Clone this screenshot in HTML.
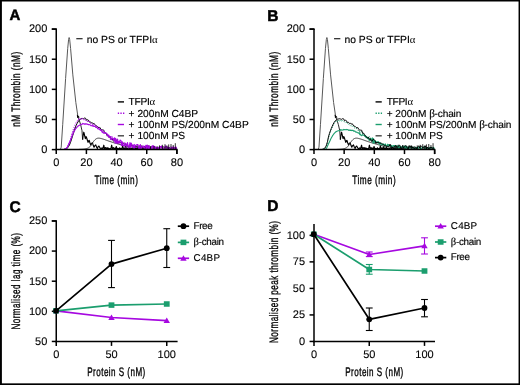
<!DOCTYPE html>
<html lang="en">
<head>
<meta charset="utf-8">
<title>Figure</title>
<style>
html,body{margin:0;padding:0;background:#fff;}
body{width:520px;height:385px;overflow:hidden;}
svg{display:block;font-family:"Liberation Sans", Arial, Helvetica, sans-serif;text-rendering:geometricPrecision;}
</style>
</head>
<body>
<svg width="520" height="385" viewBox="0 0 520 385">
<rect x="0" y="0" width="520" height="385" fill="#fff"/>
<path d="M60.32,149.60 L61.23,147.19 L62.73,124.29 L65.60,78.50 L67.71,48.38 L68.62,39.34 L69.14,37.53 L69.67,39.34 L70.58,48.38 L72.84,74.89 L75.85,102.60 L77.81,115.86" fill="none" stroke="#585858" stroke-width="1.0" stroke-linejoin="round" />
<path d="M77.40,115.50 L79.00,119.50 L80.60,124.50 L82.00,130.70 L82.60,139.60" fill="none" stroke="#111" stroke-width="0.9" stroke-linejoin="round" />
<path d="M82.60,139.60 L83.20,135.00 L83.80,132.20 L84.60,135.50 L85.35,138.60 L86.00,136.60 L86.50,137.30 L87.30,140.00 L88.05,142.40 L88.70,140.80 L89.20,140.40 L90.00,143.00 L90.85,145.00 L91.70,143.20 L92.45,142.80 L93.30,145.60 L94.05,147.20 L94.90,145.60 L95.75,144.90 L96.60,147.20 L97.35,148.40 L98.20,146.60 L98.95,146.00 L100.00,148.00 L101.15,148.70 L101.98,147.80 L102.82,149.00 L103.81,145.20 L104.51,149.00 L105.41,147.50 L106.23,149.00 L107.07,147.50 L107.60,149.00 L108.36,148.00 L109.07,149.00 L110.12,148.50 L110.85,149.00 L111.65,145.20 L112.41,149.00 L113.32,147.50 L114.07,149.00 L115.09,148.00 L115.61,149.00 L116.31,146.50 L117.05,149.00 L118.03,148.40 L118.71,149.00 L119.73,147.80 L120.33,149.00 L121.07,148.50 L121.84,149.00 L122.67,145.80 L123.33,149.00 L124.20,148.00 L124.99,149.00 L125.75,146.50 L126.45,149.00 L127.07,148.00 L127.73,149.00 L128.75,147.00 L129.28,149.00 L129.88,148.50 L130.47,149.00 L131.53,148.50 L132.22,149.00 L133.31,147.00 L133.98,149.00 L134.86,146.50 L135.67,149.00 L136.41,148.00 L137.03,149.00 L137.64,147.00 L138.44,149.00 L139.10,146.50 L139.89,149.00 L140.49,145.20 L141.31,149.00 L142.00,147.80 L142.57,149.00 L143.43,147.50 L144.10,149.00 L144.89,147.00 L145.56,149.00 L146.26,145.80 L147.11,149.00 L148.20,145.80 L149.09,149.00 L149.70,147.50 L150.36,149.00" fill="none" stroke="#000" stroke-width="1.15" stroke-linejoin="round" />
<path d="M76.9,114.4 L79.8,117.2 L77.2,118.0 Z" fill="#000"/>
<path d="M78.87,149.42 L79.35,149.40 L79.99,149.38 L80.76,149.35 L81.60,149.32 L82.49,149.28 L83.36,149.21 L84.18,149.12 L84.90,149.00 L85.55,148.85 L86.17,148.70 L86.78,148.53 L87.35,148.33 L87.91,148.11 L88.44,147.84 L88.94,147.54 L89.43,147.19 L89.88,146.77 L90.29,146.29 L90.67,145.76 L91.03,145.19 L91.38,144.62 L91.72,144.04 L92.08,143.49 L92.44,142.97 L92.82,142.48 L93.20,141.97 L93.57,141.47 L93.95,140.98 L94.33,140.51 L94.70,140.08 L95.08,139.69 L95.46,139.36 L95.82,139.08 L96.18,138.84 L96.52,138.64 L96.87,138.47 L97.23,138.34 L97.61,138.25 L98.02,138.19 L98.47,138.15 L98.96,138.16 L99.46,138.20 L99.99,138.28 L100.55,138.40 L101.12,138.54 L101.73,138.70 L102.35,138.87 L103.00,139.06 L103.67,139.26 L104.36,139.49 L105.08,139.75 L105.83,140.02 L106.59,140.30 L107.38,140.59 L108.19,140.88 L109.03,141.16 L109.89,141.45 L110.77,141.75 L111.68,142.05 L112.61,142.35 L113.57,142.66 L114.54,142.97 L115.55,143.27 L116.57,143.57 L117.63,143.88 L118.73,144.20 L119.85,144.52 L121.00,144.84 L122.16,145.15 L123.32,145.45 L124.48,145.73 L125.62,145.98 L126.73,146.22 L127.81,146.44 L128.88,146.64 L129.95,146.83 L131.05,147.01 L132.19,147.18 L133.39,147.34 L134.67,147.49 L136.01,147.64 L137.40,147.77 L138.84,147.89 L140.32,148.00 L141.85,148.10 L143.43,148.20 L145.06,148.30 L146.73,148.39 L148.47,148.49 L150.29,148.58 L152.16,148.66 L154.08,148.74 L156.02,148.81 L157.97,148.88 L159.90,148.94 L161.81,149.00 L163.80,149.05 L165.93,149.09 L168.13,149.12 L170.29,149.16 L172.34,149.18 L174.18,149.20 L175.73,149.22 L176.89,149.24" fill="none" stroke="#333" stroke-width="0.95" stroke-linejoin="round" />
<path d="M64.69,148.90 L65.64,148.90 L66.59,148.90 L67.54,147.87 L68.49,146.60 L69.44,144.97 L70.39,142.74 L71.34,139.89 L72.29,136.83 L73.24,133.89 L74.19,130.87 L75.14,127.98 L76.09,125.54 L77.04,123.55 L77.99,121.91 L78.94,120.59 L79.89,119.16 L80.84,119.07 L81.79,118.37 L82.74,118.61 L83.69,118.73 L84.64,118.00 L85.59,118.28 L86.54,120.24 L87.49,119.73 L88.44,120.24 L89.39,122.16 L90.34,121.75 L91.29,122.95 L92.24,122.86 L93.19,123.71 L94.14,123.42 L95.09,124.90 L96.04,125.96 L96.99,126.01 L97.94,127.10 L98.89,127.70 L99.84,127.33 L100.79,129.33 L101.74,129.86 L102.69,129.88 L103.64,129.99 L104.59,132.99 L105.54,132.83 L106.49,134.38 L107.44,135.88 L108.39,136.47 L109.34,137.80 L110.29,137.12 L111.24,139.11 L112.19,138.45 L113.14,140.82 L114.09,141.21 L115.04,139.03 L115.99,139.74 L116.94,140.41 L117.89,143.47 L118.84,141.92 L119.79,142.94 L120.74,142.10 L121.69,143.17 L122.64,143.03 L123.59,143.19 L124.54,144.30 L125.49,144.53 L126.44,145.89 L127.39,145.28 L128.34,146.35 L129.29,146.26 L130.24,146.91 L131.19,145.92 L132.14,144.86 L133.09,146.27 L134.04,146.61 L134.99,146.65 L135.94,146.18 L136.89,146.57 L137.84,145.79 L138.79,147.02 L139.74,146.66 L140.69,146.25 L141.64,145.94 L142.59,147.45 L143.54,147.77 L144.49,146.21 L145.44,147.54 L146.39,146.89 L147.34,146.47 L148.29,146.77 L149.24,147.66 L150.19,147.88 L151.14,146.43 L152.09,147.48 L153.04,146.49 L153.99,147.73 L154.94,147.06 L155.89,148.08 L156.84,148.29 L157.79,147.46 L158.74,148.37 L159.69,147.16 L160.64,146.76 L161.59,147.73 L162.54,146.72 L163.49,147.04 L164.44,147.44 L165.39,147.82 L166.34,147.02 L167.29,146.83 L168.24,148.33 L169.19,147.35 L170.14,148.53 L171.09,148.43 L172.04,147.51 L172.99,147.67 L173.94,147.79 L174.89,148.02 L175.84,147.95 L176.79,147.90" fill="none" stroke="#000" stroke-width="1.0" stroke-linejoin="round" />
<path d="M64.24,149.00 L64.86,149.00 L65.48,148.99 L66.10,148.56 L66.72,147.90 L67.34,146.95 L67.96,145.81 L68.58,144.53 L69.20,143.18 L69.82,141.77 L70.44,140.23 L71.06,138.55 L71.68,136.84 L72.30,135.21 L72.92,133.75 L73.54,132.45 L74.16,131.26 L74.78,130.16 L75.40,129.17 L76.02,128.28 L76.64,127.52 L77.26,126.86 L77.88,126.29 L78.50,125.78 L79.12,125.42 L79.74,125.11 L80.36,124.81 L80.98,124.66 L81.60,124.27 L82.22,124.25 L82.84,123.41 L83.46,123.71 L84.08,124.10 L84.70,123.91 L85.32,124.19 L85.94,123.67 L86.56,124.09 L87.18,124.06 L87.80,124.46 L88.42,124.66 L89.04,124.39 L89.66,124.74 L90.28,124.98 L90.90,125.67 L91.52,125.74 L92.14,125.46 L92.76,126.17 L93.38,125.86 L94.00,126.48 L94.62,126.34 L95.24,126.51 L95.86,127.50 L96.48,127.29 L97.10,127.64 L97.72,128.61 L98.34,128.90 L98.96,128.82 L99.58,129.75 L100.20,129.81 L100.82,130.33 L101.44,130.35 L102.06,132.06 L102.68,131.89 L103.30,133.00 L103.92,133.28 L104.54,132.32 L105.16,132.94 L105.78,132.95 L106.40,133.40 L107.02,133.74 L107.64,134.86 L108.26,136.12 L108.88,135.16 L109.50,137.23 L110.12,136.84 L110.74,136.66 L111.36,139.72 L111.98,138.37 L112.60,137.92 L113.22,139.19 L113.84,140.75 L114.46,137.78 L115.08,142.98 L115.70,138.44 L116.32,142.49 L116.94,143.22 L117.56,139.16 L118.18,143.40 L118.80,141.43 L119.42,142.76 L120.04,140.02 L120.66,140.44 L121.28,141.34 L121.90,145.58 L122.52,141.83 L123.14,144.93 L123.76,146.01 L124.38,146.25 L125.00,143.30 L125.62,143.50 L126.24,144.52 L126.86,145.96 L127.48,142.61 L128.10,146.06 L128.72,146.42 L129.34,146.86 L129.96,142.69 L130.58,147.52 L131.20,143.18 L131.82,144.58 L132.44,146.09 L133.06,147.79 L133.68,144.89 L134.30,148.02 L134.92,146.10 L135.54,145.21 L136.16,145.32 L136.78,144.82 L137.40,144.48 L138.02,144.86 L138.64,147.20 L139.26,148.56 L139.88,145.12 L140.50,144.72 L141.12,148.72 L141.74,146.88 L142.36,146.40 L142.98,145.74 L143.60,147.29 L144.22,148.30 L144.84,146.78 L145.46,146.68 L146.08,145.17 L146.70,148.82 L147.32,145.13 L147.94,147.10 L148.56,148.57 L149.18,145.62 L149.80,148.17 L150.42,149.00 L151.04,147.79 L151.66,148.47 L152.28,145.63 L152.90,147.03 L153.52,145.85 L154.14,148.79 L154.76,146.50 L155.38,147.18 L156.00,149.00 L156.62,148.90 L157.24,149.00 L157.86,147.26 L158.48,147.42 L159.10,148.45 L159.72,147.41 L160.34,146.64 L160.96,147.13 L161.58,146.06 L162.20,147.04 L162.82,149.00 L163.44,149.00 L164.06,148.13 L164.68,147.61 L165.30,146.94 L165.92,145.91 L166.54,146.69 L167.16,148.84 L167.78,149.00 L168.40,147.09 L169.02,148.88 L169.64,148.85 L170.26,148.52 L170.88,148.40 L171.50,148.81 L172.12,147.15 L172.74,148.59 L173.36,146.82 L173.98,147.69 L174.60,148.89 L175.22,148.57 L175.84,146.91 L176.46,149.00" fill="none" stroke="#A608E0" stroke-width="1.15" stroke-linejoin="round" />
<path d="M64.39,149.00 L65.09,149.00 L65.79,148.87 L66.49,148.21 L67.19,147.15 L67.89,145.82 L68.59,144.29 L69.29,142.58 L69.99,140.66 L70.69,138.39 L71.39,135.89 L72.09,133.36 L72.79,131.06 L73.49,129.03 L74.19,127.16 L74.89,125.44 L75.59,123.92 L76.29,122.59 L76.99,121.43 L77.69,120.38 L78.39,119.42 L79.09,118.46 L79.79,119.61 L80.49,118.10 L81.19,118.99 L81.89,119.74 L82.59,118.36 L83.29,119.37 L83.99,119.69 L84.69,118.92 L85.39,119.83 L86.09,120.72 L86.79,120.58 L87.49,121.39 L88.19,120.72 L88.89,121.24 L89.59,121.40 L90.29,122.51 L90.99,123.66 L91.69,123.46 L92.39,124.20 L93.09,123.92 L93.79,124.99 L94.49,124.27 L95.19,125.07 L95.89,126.23 L96.59,126.82 L97.29,126.77 L97.99,126.69 L98.69,127.54 L99.39,127.97 L100.09,128.64 L100.79,130.14 L101.49,129.24 L102.19,131.87 L102.89,132.43 L103.59,130.55 L104.29,132.13 L104.99,133.09 L105.69,132.33 L106.39,134.20 L107.09,136.42 L107.79,134.85 L108.49,137.02 L109.19,136.18 L109.89,138.07 L110.59,140.37 L111.29,137.24 L111.99,136.68 L112.69,137.52 L113.39,140.34 L114.09,138.06 L114.79,138.87 L115.49,141.52 L116.19,144.05 L116.89,141.72 L117.59,141.87 L118.29,143.39 L118.99,140.81 L119.69,143.59 L120.39,141.72 L121.09,144.23 L121.79,146.28 L122.49,141.80 L123.19,144.62 L123.89,145.09 L124.59,142.90 L125.29,143.70 L125.99,147.63 L126.69,147.80 L127.39,143.38 L128.09,146.55 L128.79,147.96 L129.49,144.37 L130.19,146.44 L130.89,143.60 L131.59,145.40 L132.29,147.12 L132.99,146.80 L133.69,147.87 L134.39,144.40 L135.09,146.01 L135.79,148.29 L136.49,147.21 L137.19,146.74 L137.89,146.63 L138.59,149.00 L139.29,147.51 L139.99,145.26 L140.69,148.61 L141.39,146.71 L142.09,147.21 L142.79,146.35 L143.49,147.37 L144.19,146.92 L144.89,145.97 L145.59,148.28 L146.29,146.10 L146.99,149.00 L147.69,145.84 L148.39,149.00 L149.09,149.00 L149.79,147.91 L150.49,148.83 L151.19,146.91 L151.89,148.99 L152.59,147.70 L153.29,146.91 L153.99,149.00 L154.69,147.67 L155.39,147.57 L156.09,149.00 L156.79,147.60 L157.49,148.87 L158.19,146.80 L158.89,149.00 L159.59,147.21 L160.29,146.35 L160.99,149.00 L161.69,146.90 L162.39,149.00 L163.09,149.00 L163.79,148.76 L164.49,146.28 L165.19,146.50 L165.89,147.13 L166.59,147.90 L167.29,148.85 L167.99,149.00 L168.69,147.79 L169.39,146.90 L170.09,148.68 L170.79,146.91 L171.49,146.71 L172.19,148.69 L172.89,149.00 L173.59,146.65 L174.29,148.28 L174.99,149.00 L175.69,149.00 L176.39,148.02" fill="none" stroke="#A608E0" stroke-width="1.05" stroke-linejoin="round" stroke-dasharray="1.1 1.3"/>
<line x1="150.50" y1="149.20" x2="150.50" y2="146.20" stroke="#000" stroke-width="0.8" />
<line x1="154.00" y1="149.20" x2="154.00" y2="145.80" stroke="#000" stroke-width="0.8" />
<line x1="157.00" y1="149.20" x2="157.00" y2="146.20" stroke="#000" stroke-width="0.8" />
<line x1="159.50" y1="149.20" x2="159.50" y2="145.40" stroke="#000" stroke-width="0.8" />
<line x1="162.40" y1="149.20" x2="162.40" y2="144.80" stroke="#000" stroke-width="0.8" />
<line x1="165.00" y1="149.20" x2="165.00" y2="144.20" stroke="#000" stroke-width="0.8" />
<line x1="167.00" y1="149.20" x2="167.00" y2="145.60" stroke="#000" stroke-width="0.8" />
<line x1="168.70" y1="149.20" x2="168.70" y2="144.40" stroke="#000" stroke-width="0.8" />
<line x1="171.00" y1="149.20" x2="171.00" y2="144.00" stroke="#000" stroke-width="0.8" />
<line x1="173.20" y1="149.20" x2="173.20" y2="145.00" stroke="#000" stroke-width="0.8" />
<line x1="175.30" y1="149.20" x2="175.30" y2="143.20" stroke="#000" stroke-width="0.8" />
<line x1="55.50" y1="149.60" x2="176.89" y2="149.60" stroke="#000" stroke-width="1.5" />
<line x1="56.25" y1="150.35" x2="56.25" y2="29.10" stroke="#000" stroke-width="1.5" />
<line x1="56.25" y1="149.60" x2="56.25" y2="154.05" stroke="#000" stroke-width="1.5" />
<text x="0" y="0" transform="translate(56.25 166.00) scale(1.0 1)" font-size="11.0" text-anchor="middle" stroke="#000" stroke-width="0.1">0</text>
<line x1="86.41" y1="149.60" x2="86.41" y2="154.05" stroke="#000" stroke-width="1.5" />
<text x="0" y="0" transform="translate(86.41 166.00) scale(1.0 1)" font-size="11.0" text-anchor="middle" stroke="#000" stroke-width="0.1">20</text>
<line x1="116.57" y1="149.60" x2="116.57" y2="154.05" stroke="#000" stroke-width="1.5" />
<text x="0" y="0" transform="translate(116.57 166.00) scale(1.0 1)" font-size="11.0" text-anchor="middle" stroke="#000" stroke-width="0.1">40</text>
<line x1="146.73" y1="149.60" x2="146.73" y2="154.05" stroke="#000" stroke-width="1.5" />
<text x="0" y="0" transform="translate(146.73 166.00) scale(1.0 1)" font-size="11.0" text-anchor="middle" stroke="#000" stroke-width="0.1">60</text>
<line x1="176.89" y1="149.60" x2="176.89" y2="154.05" stroke="#000" stroke-width="1.5" />
<text x="0" y="0" transform="translate(176.89 166.00) scale(1.0 1)" font-size="11.0" text-anchor="middle" stroke="#000" stroke-width="0.1">80</text>
<line x1="51.80" y1="149.60" x2="56.25" y2="149.60" stroke="#000" stroke-width="1.5" />
<text x="0" y="0" transform="translate(47.35 152.90) scale(1.0 1)" font-size="11.0" text-anchor="end" stroke="#000" stroke-width="0.1">0</text>
<line x1="51.80" y1="119.47" x2="56.25" y2="119.47" stroke="#000" stroke-width="1.5" />
<text x="0" y="0" transform="translate(47.35 122.77) scale(1.0 1)" font-size="11.0" text-anchor="end" stroke="#000" stroke-width="0.1">50</text>
<line x1="51.80" y1="89.35" x2="56.25" y2="89.35" stroke="#000" stroke-width="1.5" />
<text x="0" y="0" transform="translate(47.35 92.65) scale(1.0 1)" font-size="11.0" text-anchor="end" stroke="#000" stroke-width="0.1">100</text>
<line x1="51.80" y1="59.22" x2="56.25" y2="59.22" stroke="#000" stroke-width="1.5" />
<text x="0" y="0" transform="translate(47.35 62.52) scale(1.0 1)" font-size="11.0" text-anchor="end" stroke="#000" stroke-width="0.1">150</text>
<line x1="51.80" y1="29.10" x2="56.25" y2="29.10" stroke="#000" stroke-width="1.5" />
<text x="0" y="0" transform="translate(47.35 32.40) scale(1.0 1)" font-size="11.0" text-anchor="end" stroke="#000" stroke-width="0.1">200</text>
<line x1="51.80" y1="29.10" x2="57.00" y2="29.10" stroke="#000" stroke-width="1.5" />
<line x1="176.89" y1="148.85" x2="176.89" y2="154.05" stroke="#000" stroke-width="1.5" />
<text x="0" y="0" font-size="12.3" letter-spacing="0.7" text-anchor="middle" transform="translate(20.20 89.10) rotate(-90) scale(0.6731 1)" stroke="#000" stroke-width="0.35" >nM Thrombin (nM)</text>
<text x="0" y="0" font-size="12.3" letter-spacing="0.7" text-anchor="middle" transform="translate(116.50 183.80) scale(0.6702 1)" stroke="#000" stroke-width="0.35" >Time (min)</text>
<line x1="76.30" y1="38.70" x2="82.60" y2="38.70" stroke="#222" stroke-width="1.2" />
<text x="86.70" y="42.60" font-size="10.35" text-anchor="start" font-weight="normal" fill="#000" stroke="#000" stroke-width="0.15" >no PS or TFPI<tspan font-family='"Liberation Serif", "DejaVu Serif", serif' font-size="10.82" stroke="none">α</tspan></text>
<line x1="117.80" y1="101.90" x2="124.00" y2="101.90" stroke="#000" stroke-width="1.4" />
<line x1="117.80" y1="113.20" x2="124.30" y2="113.20" stroke="#A608E0" stroke-width="1.4" stroke-dasharray="1.3 1.3"/>
<line x1="117.80" y1="124.50" x2="124.00" y2="124.50" stroke="#A608E0" stroke-width="1.4" />
<line x1="117.80" y1="135.80" x2="124.00" y2="135.80" stroke="#444" stroke-width="1.4" />
<text x="128.60" y="104.80" font-size="10.22" text-anchor="start" font-weight="normal" fill="#000" stroke="#000" stroke-width="0.15" ><tspan letter-spacing="-0.3">TFPI</tspan><tspan font-family='"Liberation Serif", "DejaVu Serif", serif' font-size="10.82" stroke="none">α</tspan></text>
<text x="128.60" y="116.55" font-size="10.22" text-anchor="start" font-weight="normal" fill="#000" stroke="#000" stroke-width="0.15" >+ 200nM C4BP</text>
<text x="128.60" y="127.85" font-size="10.22" text-anchor="start" font-weight="normal" fill="#000" stroke="#000" stroke-width="0.15" >+ 100nM PS/200nM C4BP</text>
<text x="128.60" y="139.40" font-size="10.22" text-anchor="start" font-weight="normal" fill="#000" stroke="#000" stroke-width="0.15" >+ 100nM PS</text>
<path d="M318.07,149.60 L318.98,147.19 L320.48,124.29 L323.35,78.50 L325.46,48.38 L326.37,39.34 L326.89,37.53 L327.42,39.34 L328.33,48.38 L330.59,74.89 L333.60,102.60 L335.56,115.86" fill="none" stroke="#585858" stroke-width="1.0" stroke-linejoin="round" />
<path d="M335.15,115.50 L336.75,119.50 L338.35,124.50 L339.75,130.70 L340.35,139.60" fill="none" stroke="#111" stroke-width="0.9" stroke-linejoin="round" />
<path d="M340.35,139.60 L340.95,135.00 L341.55,132.20 L342.35,135.50 L343.10,138.60 L343.75,136.60 L344.25,137.30 L345.05,140.00 L345.80,142.40 L346.45,140.80 L346.95,140.40 L347.75,143.00 L348.60,145.00 L349.45,143.20 L350.20,142.80 L351.05,145.60 L351.80,147.20 L352.65,145.60 L353.50,144.90 L354.35,147.20 L355.10,148.40 L355.95,146.60 L356.70,146.00 L357.75,148.00 L358.90,148.70 L359.73,147.80 L360.57,149.00 L361.56,145.20 L362.26,149.00 L363.16,147.50 L363.98,149.00 L364.82,147.50 L365.35,149.00 L366.11,148.00 L366.82,149.00 L367.87,148.50 L368.60,149.00 L369.40,145.20 L370.16,149.00 L371.07,147.50 L371.82,149.00 L372.84,148.00 L373.36,149.00 L374.06,146.50 L374.80,149.00 L375.78,148.40 L376.46,149.00 L377.48,147.80 L378.08,149.00 L378.82,148.50 L379.59,149.00 L380.42,145.80 L381.08,149.00 L381.95,148.00 L382.74,149.00 L383.50,146.50 L384.20,149.00 L384.82,148.00 L385.48,149.00 L386.50,147.00 L387.03,149.00 L387.63,148.50 L388.22,149.00 L389.28,148.50 L389.97,149.00 L391.06,147.00 L391.73,149.00 L392.61,146.50 L393.42,149.00 L394.16,148.00 L394.78,149.00 L395.39,147.00 L396.19,149.00 L396.85,146.50 L397.64,149.00 L398.24,145.20 L399.06,149.00 L399.75,147.80 L400.32,149.00 L401.18,147.50 L401.85,149.00 L402.64,147.00 L403.31,149.00 L404.01,145.80 L404.86,149.00 L405.95,145.80 L406.84,149.00 L407.45,147.50 L408.11,149.00" fill="none" stroke="#000" stroke-width="1.15" stroke-linejoin="round" />
<path d="M334.65,114.4 L337.55,117.2 L334.95,118.0 Z" fill="#000"/>
<path d="M336.62,149.42 L337.10,149.40 L337.74,149.38 L338.51,149.35 L339.35,149.32 L340.24,149.28 L341.11,149.21 L341.93,149.12 L342.65,149.00 L343.30,148.85 L343.92,148.70 L344.53,148.53 L345.10,148.33 L345.66,148.11 L346.19,147.84 L346.69,147.54 L347.18,147.19 L347.63,146.77 L348.04,146.29 L348.42,145.76 L348.78,145.19 L349.13,144.62 L349.47,144.04 L349.83,143.49 L350.19,142.97 L350.57,142.48 L350.95,141.97 L351.32,141.47 L351.70,140.98 L352.08,140.51 L352.45,140.08 L352.83,139.69 L353.21,139.36 L353.57,139.08 L353.93,138.84 L354.27,138.64 L354.62,138.47 L354.98,138.34 L355.36,138.25 L355.77,138.19 L356.22,138.15 L356.71,138.16 L357.21,138.20 L357.74,138.28 L358.30,138.40 L358.87,138.54 L359.48,138.70 L360.10,138.87 L360.75,139.06 L361.42,139.26 L362.11,139.49 L362.83,139.75 L363.58,140.02 L364.34,140.30 L365.13,140.59 L365.94,140.88 L366.78,141.16 L367.64,141.45 L368.52,141.75 L369.43,142.05 L370.36,142.35 L371.32,142.66 L372.29,142.97 L373.30,143.27 L374.32,143.57 L375.38,143.88 L376.48,144.20 L377.60,144.52 L378.75,144.84 L379.91,145.15 L381.07,145.45 L382.23,145.73 L383.37,145.98 L384.48,146.22 L385.56,146.44 L386.63,146.64 L387.70,146.83 L388.80,147.01 L389.94,147.18 L391.14,147.34 L392.42,147.49 L393.76,147.64 L395.15,147.77 L396.59,147.89 L398.07,148.00 L399.60,148.10 L401.18,148.20 L402.81,148.30 L404.48,148.39 L406.22,148.49 L408.04,148.58 L409.91,148.66 L411.83,148.74 L413.77,148.81 L415.72,148.88 L417.65,148.94 L419.56,149.00 L421.55,149.05 L423.68,149.09 L425.88,149.12 L428.04,149.16 L430.09,149.18 L431.93,149.20 L433.48,149.22 L434.64,149.24" fill="none" stroke="#333" stroke-width="0.95" stroke-linejoin="round" />
<path d="M322.75,149.00 L323.45,149.00 L324.15,149.00 L324.85,148.35 L325.55,147.42 L326.25,146.18 L326.95,144.38 L327.65,141.61 L328.35,138.48 L329.05,135.85 L329.75,133.76 L330.45,131.83 L331.15,130.02 L331.85,128.31 L332.55,126.71 L333.25,125.21 L333.95,123.86 L334.65,122.76 L335.35,121.89 L336.05,121.19 L336.75,120.46 L337.45,121.61 L338.15,119.98 L338.85,120.81 L339.55,121.45 L340.25,119.94 L340.95,120.80 L341.65,120.99 L342.35,120.10 L343.05,120.92 L343.75,121.78 L344.45,121.66 L345.15,122.51 L345.85,121.87 L346.55,122.41 L347.25,122.59 L347.95,123.71 L348.65,124.86 L349.35,124.65 L350.05,125.38 L350.75,125.08 L351.45,126.15 L352.15,125.42 L352.85,126.21 L353.55,127.36 L354.25,127.92 L354.95,127.85 L355.65,127.73 L356.35,128.54 L357.05,128.93 L357.75,129.56 L358.45,131.02 L359.15,130.43 L359.85,132.66 L360.55,133.18 L361.25,131.26 L361.95,132.80 L362.65,133.71 L363.35,132.89 L364.05,134.67 L364.75,136.72 L365.45,134.96 L366.15,137.00 L366.85,136.10 L367.55,137.97 L368.25,139.39 L368.95,137.13 L369.65,136.58 L370.35,137.43 L371.05,140.26 L371.75,138.00 L372.45,138.80 L373.15,141.46 L373.85,144.01 L374.55,141.94 L375.25,142.16 L375.95,142.91 L376.65,142.07 L377.35,143.30 L378.05,142.73 L378.75,143.85 L379.45,144.78 L380.15,143.20 L380.85,144.42 L381.55,144.72 L382.25,144.00 L382.95,144.41 L383.65,146.03 L384.35,146.19 L385.05,144.58 L385.75,145.88 L386.45,146.50 L387.15,145.19 L387.85,146.06 L388.55,145.05 L389.25,145.81 L389.95,146.55 L390.65,146.50 L391.35,146.98 L392.05,145.71 L392.75,146.34 L393.45,147.47 L394.15,147.01 L394.85,146.84 L395.55,146.83 L396.25,148.08 L396.95,147.34 L397.65,146.31 L398.35,147.94 L399.05,147.08 L399.75,147.35 L400.45,146.97 L401.15,147.49 L401.85,147.30 L402.55,146.87 L403.25,147.99 L403.95,146.97 L404.65,148.37 L405.35,146.88 L406.05,148.42 L406.75,148.50 L407.45,147.91 L408.15,148.36 L408.85,147.46 L409.55,148.47 L410.25,147.86 L410.95,147.50 L411.65,148.99 L412.35,147.88 L413.05,147.85 L413.75,148.84 L414.45,147.88 L415.15,148.50 L415.85,147.52 L416.55,148.89 L417.25,147.73 L417.95,147.34 L418.65,149.00 L419.35,147.61 L420.05,149.00 L420.75,149.00 L421.45,148.53 L422.15,147.35 L422.85,147.46 L423.55,147.77 L424.25,148.14 L424.95,148.60 L425.65,149.00 L426.35,148.11 L427.05,147.69 L427.75,148.54 L428.45,147.71 L429.15,147.61 L429.85,148.56 L430.55,148.85 L431.25,147.60 L431.95,148.38 L432.65,148.90 L433.35,149.00 L434.05,148.27" fill="none" stroke="#1B9E6E" stroke-width="1.0" stroke-linejoin="round" stroke-dasharray="1.1 1.3"/>
<path d="M324.56,149.00 L325.18,149.00 L325.80,149.00 L326.42,148.31 L327.04,147.14 L327.66,145.77 L328.28,144.36 L328.90,143.00 L329.52,141.70 L330.14,140.39 L330.76,139.09 L331.38,137.84 L332.00,136.68 L332.62,135.64 L333.24,134.72 L333.86,133.90 L334.48,133.16 L335.10,132.51 L335.72,131.95 L336.34,131.47 L336.96,131.19 L337.58,131.00 L338.20,130.82 L338.82,130.76 L339.44,130.44 L340.06,130.44 L340.68,129.62 L341.30,129.88 L341.92,130.19 L342.54,129.91 L343.16,130.07 L343.78,129.42 L344.40,129.69 L345.02,129.51 L345.64,129.76 L346.26,129.81 L346.88,129.41 L347.50,129.64 L348.12,129.76 L348.74,130.36 L349.36,130.33 L349.98,129.94 L350.60,130.55 L351.22,130.14 L351.84,130.64 L352.46,130.37 L353.08,130.42 L353.70,131.27 L354.32,130.92 L354.94,131.13 L355.56,131.98 L356.18,132.15 L356.80,131.96 L357.42,132.79 L358.04,132.76 L358.66,133.19 L359.28,132.66 L359.90,134.76 L360.52,134.49 L361.14,135.50 L361.76,135.69 L362.38,134.64 L363.00,135.18 L363.62,135.11 L364.24,135.45 L364.86,135.63 L365.48,136.55 L366.10,137.63 L366.72,136.54 L367.34,138.51 L367.96,138.03 L368.58,137.76 L369.20,140.72 L369.82,139.27 L370.44,138.65 L371.06,139.68 L371.68,140.97 L372.30,137.82 L372.92,143.01 L373.54,138.46 L374.16,142.52 L374.78,142.15 L375.40,140.74 L376.02,142.51 L376.64,141.89 L377.26,142.54 L377.88,141.62 L378.50,141.91 L379.12,142.39 L379.74,144.15 L380.36,142.83 L380.98,144.13 L381.60,144.66 L382.22,144.85 L382.84,143.81 L383.46,143.98 L384.08,144.46 L384.70,145.09 L385.32,143.88 L385.94,145.28 L386.56,145.49 L387.18,145.72 L387.80,144.18 L388.42,146.11 L389.04,144.50 L389.66,145.11 L390.28,145.75 L390.90,146.47 L391.52,145.41 L392.14,146.68 L392.76,146.01 L393.38,145.64 L394.00,145.73 L394.62,145.54 L395.24,145.42 L395.86,145.64 L396.48,146.79 L397.10,147.48 L397.72,145.88 L398.34,145.72 L398.96,147.66 L399.58,146.81 L400.20,146.61 L400.82,146.33 L401.44,147.09 L402.06,147.59 L402.68,146.89 L403.30,146.85 L403.92,146.15 L404.54,147.90 L405.16,146.17 L405.78,147.11 L406.40,147.83 L407.02,146.44 L407.64,147.66 L408.26,148.12 L408.88,147.51 L409.50,147.84 L410.12,146.50 L410.74,147.18 L411.36,146.63 L411.98,148.04 L412.60,146.95 L413.22,147.29 L413.84,148.40 L414.46,148.12 L415.08,148.39 L415.70,147.36 L416.32,147.45 L416.94,147.94 L417.56,147.46 L418.18,147.10 L418.80,147.34 L419.42,146.84 L420.04,147.32 L420.66,148.55 L421.28,148.51 L421.90,147.86 L422.52,147.61 L423.14,147.30 L423.76,146.81 L424.38,147.19 L425.00,148.22 L425.62,148.40 L426.24,147.40 L426.86,148.26 L427.48,148.24 L428.10,148.09 L428.72,148.04 L429.34,148.24 L429.96,147.46 L430.58,148.15 L431.20,147.31 L431.82,147.72 L432.44,148.30 L433.06,148.15 L433.68,147.37 L434.30,148.68" fill="none" stroke="#1B9E6E" stroke-width="1.1" stroke-linejoin="round" />
<path d="M322.75,148.90 L323.70,148.90 L324.65,148.28 L325.60,146.91 L326.55,144.94 L327.50,141.49 L328.45,136.96 L329.40,133.55 L330.35,130.85 L331.30,128.41 L332.25,126.17 L333.20,124.12 L334.15,122.35 L335.10,121.03 L336.05,120.12 L337.00,119.54 L337.95,118.72 L338.90,119.07 L339.85,118.67 L340.80,119.13 L341.75,119.34 L342.70,118.61 L343.65,118.88 L344.60,120.82 L345.55,120.29 L346.50,120.78 L347.45,122.69 L348.40,122.28 L349.35,123.43 L350.30,123.25 L351.25,124.01 L352.20,123.65 L353.15,125.10 L354.10,126.17 L355.05,126.23 L356.00,127.33 L356.95,127.92 L357.90,127.57 L358.85,129.57 L359.80,130.10 L360.75,130.14 L361.70,130.25 L362.65,133.26 L363.60,133.11 L364.55,134.71 L365.50,136.23 L366.45,136.74 L367.40,138.03 L368.35,137.22 L369.30,139.31 L370.25,138.64 L371.20,141.01 L372.15,141.40 L373.10,139.27 L374.05,139.87 L375.00,140.53 L375.95,143.58 L376.90,142.03 L377.85,143.05 L378.80,142.21 L379.75,143.27 L380.70,143.13 L381.65,143.28 L382.60,144.37 L383.55,144.60 L384.50,145.95 L385.45,145.34 L386.40,146.41 L387.35,146.31 L388.30,146.96 L389.25,145.97 L390.20,144.24 L391.15,147.04 L392.10,147.59 L393.05,147.50 L394.00,146.36 L394.95,147.04 L395.90,145.25 L396.85,147.72 L397.80,146.84 L398.75,145.85 L399.70,145.10 L400.65,148.18 L401.60,148.77 L402.55,145.40 L403.50,148.16 L404.45,146.73 L405.40,145.78 L406.35,146.37 L407.30,148.21 L408.25,148.64 L409.20,145.52 L410.15,147.72 L411.10,145.59 L412.05,148.18 L413.00,146.73 L413.95,148.85 L414.90,148.90 L415.85,147.48 L416.80,148.90 L417.75,146.78 L418.70,145.92 L419.65,147.93 L420.60,145.79 L421.55,146.44 L422.50,147.26 L423.45,148.05 L424.40,146.34 L425.35,145.92 L426.30,148.90 L427.25,146.98 L428.20,148.90 L429.15,148.90 L430.10,147.27 L431.05,147.59 L432.00,147.83 L432.95,148.32 L433.90,148.14" fill="none" stroke="#000" stroke-width="0.95" stroke-linejoin="round" />
<line x1="408.25" y1="149.20" x2="408.25" y2="146.20" stroke="#000" stroke-width="0.8" />
<line x1="411.75" y1="149.20" x2="411.75" y2="145.80" stroke="#000" stroke-width="0.8" />
<line x1="414.75" y1="149.20" x2="414.75" y2="146.20" stroke="#000" stroke-width="0.8" />
<line x1="417.25" y1="149.20" x2="417.25" y2="145.40" stroke="#000" stroke-width="0.8" />
<line x1="420.15" y1="149.20" x2="420.15" y2="144.80" stroke="#000" stroke-width="0.8" />
<line x1="422.75" y1="149.20" x2="422.75" y2="144.20" stroke="#000" stroke-width="0.8" />
<line x1="424.75" y1="149.20" x2="424.75" y2="145.60" stroke="#000" stroke-width="0.8" />
<line x1="426.45" y1="149.20" x2="426.45" y2="144.40" stroke="#000" stroke-width="0.8" />
<line x1="428.75" y1="149.20" x2="428.75" y2="144.00" stroke="#000" stroke-width="0.8" />
<line x1="430.95" y1="149.20" x2="430.95" y2="145.00" stroke="#000" stroke-width="0.8" />
<line x1="433.05" y1="149.20" x2="433.05" y2="143.20" stroke="#000" stroke-width="0.8" />
<line x1="313.25" y1="149.60" x2="434.64" y2="149.60" stroke="#000" stroke-width="1.5" />
<line x1="314.00" y1="150.35" x2="314.00" y2="29.10" stroke="#000" stroke-width="1.5" />
<line x1="314.00" y1="149.60" x2="314.00" y2="154.05" stroke="#000" stroke-width="1.5" />
<text x="0" y="0" transform="translate(314.00 166.00) scale(1.0 1)" font-size="11.0" text-anchor="middle" stroke="#000" stroke-width="0.1">0</text>
<line x1="344.16" y1="149.60" x2="344.16" y2="154.05" stroke="#000" stroke-width="1.5" />
<text x="0" y="0" transform="translate(344.16 166.00) scale(1.0 1)" font-size="11.0" text-anchor="middle" stroke="#000" stroke-width="0.1">20</text>
<line x1="374.32" y1="149.60" x2="374.32" y2="154.05" stroke="#000" stroke-width="1.5" />
<text x="0" y="0" transform="translate(374.32 166.00) scale(1.0 1)" font-size="11.0" text-anchor="middle" stroke="#000" stroke-width="0.1">40</text>
<line x1="404.48" y1="149.60" x2="404.48" y2="154.05" stroke="#000" stroke-width="1.5" />
<text x="0" y="0" transform="translate(404.48 166.00) scale(1.0 1)" font-size="11.0" text-anchor="middle" stroke="#000" stroke-width="0.1">60</text>
<line x1="434.64" y1="149.60" x2="434.64" y2="154.05" stroke="#000" stroke-width="1.5" />
<text x="0" y="0" transform="translate(434.64 166.00) scale(1.0 1)" font-size="11.0" text-anchor="middle" stroke="#000" stroke-width="0.1">80</text>
<line x1="309.55" y1="149.60" x2="314.00" y2="149.60" stroke="#000" stroke-width="1.5" />
<text x="0" y="0" transform="translate(305.10 152.90) scale(1.0 1)" font-size="11.0" text-anchor="end" stroke="#000" stroke-width="0.1">0</text>
<line x1="309.55" y1="119.47" x2="314.00" y2="119.47" stroke="#000" stroke-width="1.5" />
<text x="0" y="0" transform="translate(305.10 122.77) scale(1.0 1)" font-size="11.0" text-anchor="end" stroke="#000" stroke-width="0.1">50</text>
<line x1="309.55" y1="89.35" x2="314.00" y2="89.35" stroke="#000" stroke-width="1.5" />
<text x="0" y="0" transform="translate(305.10 92.65) scale(1.0 1)" font-size="11.0" text-anchor="end" stroke="#000" stroke-width="0.1">100</text>
<line x1="309.55" y1="59.22" x2="314.00" y2="59.22" stroke="#000" stroke-width="1.5" />
<text x="0" y="0" transform="translate(305.10 62.52) scale(1.0 1)" font-size="11.0" text-anchor="end" stroke="#000" stroke-width="0.1">150</text>
<line x1="309.55" y1="29.10" x2="314.00" y2="29.10" stroke="#000" stroke-width="1.5" />
<text x="0" y="0" transform="translate(305.10 32.40) scale(1.0 1)" font-size="11.0" text-anchor="end" stroke="#000" stroke-width="0.1">200</text>
<line x1="309.55" y1="29.10" x2="314.75" y2="29.10" stroke="#000" stroke-width="1.5" />
<line x1="434.64" y1="148.85" x2="434.64" y2="154.05" stroke="#000" stroke-width="1.5" />
<text x="0" y="0" font-size="12.3" letter-spacing="0.7" text-anchor="middle" transform="translate(277.95 89.10) rotate(-90) scale(0.6731 1)" stroke="#000" stroke-width="0.35" >nM Thrombin (nM)</text>
<text x="0" y="0" font-size="12.3" letter-spacing="0.7" text-anchor="middle" transform="translate(374.25 183.80) scale(0.6702 1)" stroke="#000" stroke-width="0.35" >Time (min)</text>
<line x1="334.05" y1="38.70" x2="340.35" y2="38.70" stroke="#222" stroke-width="1.2" />
<text x="344.45" y="42.60" font-size="10.35" text-anchor="start" font-weight="normal" fill="#000" stroke="#000" stroke-width="0.15" >no PS or TFPI<tspan font-family='"Liberation Serif", "DejaVu Serif", serif' font-size="10.75" stroke="none">α</tspan></text>
<line x1="375.55" y1="101.90" x2="381.75" y2="101.90" stroke="#000" stroke-width="1.4" />
<line x1="375.55" y1="113.20" x2="382.05" y2="113.20" stroke="#1B9E6E" stroke-width="1.4" stroke-dasharray="1.3 1.3"/>
<line x1="375.55" y1="124.50" x2="381.75" y2="124.50" stroke="#1B9E6E" stroke-width="1.4" />
<line x1="375.55" y1="135.80" x2="381.75" y2="135.80" stroke="#444" stroke-width="1.4" />
<text x="386.65" y="104.80" font-size="10.15" text-anchor="start" font-weight="normal" fill="#000" stroke="#000" stroke-width="0.15" ><tspan letter-spacing="-0.3">TFPI</tspan><tspan font-family='"Liberation Serif", "DejaVu Serif", serif' font-size="10.75" stroke="none">α</tspan></text>
<text x="386.65" y="116.55" font-size="10.15" text-anchor="start" font-weight="normal" fill="#000" stroke="#000" stroke-width="0.15" >+ 200nM <tspan font-family='"Liberation Serif", "DejaVu Serif", serif' font-size="11.15">β</tspan><tspan dx="-0.3" letter-spacing="-0.15">-chain</tspan></text>
<text x="386.65" y="127.85" font-size="10.15" text-anchor="start" font-weight="normal" fill="#000" stroke="#000" stroke-width="0.15" >+ 100nM PS/200nM <tspan font-family='"Liberation Serif", "DejaVu Serif", serif' font-size="11.15">β</tspan><tspan dx="-0.3" letter-spacing="-0.15">-chain</tspan></text>
<text x="386.65" y="139.40" font-size="10.15" text-anchor="start" font-weight="normal" fill="#000" stroke="#000" stroke-width="0.15" >+ 100nM PS</text>
<line x1="55.50" y1="341.45" x2="177.60" y2="341.45" stroke="#000" stroke-width="1.5" />
<line x1="56.25" y1="342.20" x2="56.25" y2="220.95" stroke="#000" stroke-width="1.5" />
<line x1="56.25" y1="341.45" x2="56.25" y2="345.90" stroke="#000" stroke-width="1.5" />
<text x="0" y="0" transform="translate(56.25 357.85) scale(1.0 1)" font-size="11.0" text-anchor="middle" stroke="#000" stroke-width="0.1">0</text>
<line x1="111.50" y1="341.45" x2="111.50" y2="345.90" stroke="#000" stroke-width="1.5" />
<text x="0" y="0" transform="translate(111.50 357.85) scale(1.0 1)" font-size="11.0" text-anchor="middle" stroke="#000" stroke-width="0.1">50</text>
<line x1="166.75" y1="341.45" x2="166.75" y2="345.90" stroke="#000" stroke-width="1.5" />
<text x="0" y="0" transform="translate(166.75 357.85) scale(1.0 1)" font-size="11.0" text-anchor="middle" stroke="#000" stroke-width="0.1">100</text>
<line x1="51.80" y1="341.45" x2="56.25" y2="341.45" stroke="#000" stroke-width="1.5" />
<text x="0" y="0" transform="translate(47.35 344.75) scale(1.0 1)" font-size="11.0" text-anchor="end" stroke="#000" stroke-width="0.1">50</text>
<line x1="51.80" y1="311.32" x2="56.25" y2="311.32" stroke="#000" stroke-width="1.5" />
<text x="0" y="0" transform="translate(47.35 314.62) scale(1.0 1)" font-size="11.0" text-anchor="end" stroke="#000" stroke-width="0.1">100</text>
<line x1="51.80" y1="281.20" x2="56.25" y2="281.20" stroke="#000" stroke-width="1.5" />
<text x="0" y="0" transform="translate(47.35 284.50) scale(1.0 1)" font-size="11.0" text-anchor="end" stroke="#000" stroke-width="0.1">150</text>
<line x1="51.80" y1="251.07" x2="56.25" y2="251.07" stroke="#000" stroke-width="1.5" />
<text x="0" y="0" transform="translate(47.35 254.38) scale(1.0 1)" font-size="11.0" text-anchor="end" stroke="#000" stroke-width="0.1">200</text>
<line x1="51.80" y1="220.95" x2="56.25" y2="220.95" stroke="#000" stroke-width="1.5" />
<text x="0" y="0" transform="translate(47.35 224.25) scale(1.0 1)" font-size="11.0" text-anchor="end" stroke="#000" stroke-width="0.1">250</text>
<line x1="51.80" y1="220.95" x2="57.00" y2="220.95" stroke="#000" stroke-width="1.5" />
<path d="M56.05,310.80 L111.50,317.50 L166.75,320.60" fill="none" stroke="#A608E0" stroke-width="1.7" stroke-linejoin="round" />
<path d="M56.05,307.70 L59.25,313.20 L52.85,313.20 Z" fill="#A608E0"/>
<path d="M111.50,314.40 L114.70,319.90 L108.30,319.90 Z" fill="#A608E0"/>
<path d="M166.75,317.50 L169.95,323.00 L163.55,323.00 Z" fill="#A608E0"/>
<path d="M56.05,310.80 L111.50,305.10 L166.75,304.00" fill="none" stroke="#1B9E6E" stroke-width="1.7" stroke-linejoin="round" />
<rect x="53.15" y="308.05" width="5.8" height="5.5" fill="#1B9E6E"/>
<rect x="108.60" y="302.35" width="5.8" height="5.5" fill="#1B9E6E"/>
<rect x="163.85" y="301.25" width="5.8" height="5.5" fill="#1B9E6E"/>
<path d="M56.05,310.80 L111.50,264.10 L166.75,248.20" fill="none" stroke="#000" stroke-width="1.7" stroke-linejoin="round" />
<line x1="111.50" y1="240.40" x2="111.50" y2="287.60" stroke="#000" stroke-width="1.1" />
<line x1="108.10" y1="240.40" x2="114.90" y2="240.40" stroke="#000" stroke-width="1.1" />
<line x1="108.10" y1="287.60" x2="114.90" y2="287.60" stroke="#000" stroke-width="1.1" />
<line x1="166.75" y1="228.70" x2="166.75" y2="267.50" stroke="#000" stroke-width="1.1" />
<line x1="163.35" y1="228.70" x2="170.15" y2="228.70" stroke="#000" stroke-width="1.1" />
<line x1="163.35" y1="267.50" x2="170.15" y2="267.50" stroke="#000" stroke-width="1.1" />
<circle cx="56.05" cy="310.80" r="2.9" fill="#000"/>
<circle cx="111.50" cy="264.10" r="2.9" fill="#000"/>
<circle cx="166.75" cy="248.20" r="2.9" fill="#000"/>
<text x="0" y="0" font-size="12.3" letter-spacing="0.7" text-anchor="middle" transform="translate(20.20 281.10) rotate(-90) scale(0.6581 1)" stroke="#000" stroke-width="0.35" >Normalised lag time (%)</text>
<text x="0" y="0" font-size="12.3" letter-spacing="0.7" text-anchor="middle" transform="translate(116.50 375.60) scale(0.6562 1)" stroke="#000" stroke-width="0.35" >Protein S (nM)</text>
<line x1="177.80" y1="226.20" x2="189.10" y2="226.20" stroke="#000" stroke-width="1.7" />
<circle cx="183.45" cy="226.20" r="2.9" fill="#000"/>
<text x="193.60" y="228.90" font-size="9.9" text-anchor="start" font-weight="normal" fill="#000" stroke="#000" stroke-width="0.15" ><tspan letter-spacing="-0.4">Free</tspan></text>
<line x1="177.80" y1="242.40" x2="189.10" y2="242.40" stroke="#1B9E6E" stroke-width="1.7" />
<rect x="180.55" y="239.65" width="5.8" height="5.5" fill="#1B9E6E"/>
<text x="193.60" y="245.10" font-size="9.9" text-anchor="start" font-weight="normal" fill="#000" stroke="#000" stroke-width="0.15" ><tspan font-family='"Liberation Serif", "DejaVu Serif", serif' font-size="10.6">β</tspan><tspan dx="-0.3" letter-spacing="-0.3">-chain</tspan></text>
<line x1="177.80" y1="258.30" x2="189.10" y2="258.30" stroke="#A608E0" stroke-width="1.7" />
<path d="M183.45,255.20 L186.65,260.70 L180.25,260.70 Z" fill="#A608E0"/>
<text x="193.60" y="261.00" font-size="9.9" text-anchor="start" font-weight="normal" fill="#000" stroke="#000" stroke-width="0.15" ><tspan letter-spacing="0.2">C4BP</tspan></text>
<line x1="313.25" y1="341.45" x2="435.00" y2="341.45" stroke="#000" stroke-width="1.5" />
<line x1="314.00" y1="342.20" x2="314.00" y2="224.00" stroke="#000" stroke-width="1.5" />
<line x1="314.00" y1="341.45" x2="314.00" y2="345.90" stroke="#000" stroke-width="1.5" />
<text x="0" y="0" transform="translate(314.00 357.85) scale(1.0 1)" font-size="11.0" text-anchor="middle" stroke="#000" stroke-width="0.1">0</text>
<line x1="369.25" y1="341.45" x2="369.25" y2="345.90" stroke="#000" stroke-width="1.5" />
<text x="0" y="0" transform="translate(369.25 357.85) scale(1.0 1)" font-size="11.0" text-anchor="middle" stroke="#000" stroke-width="0.1">50</text>
<line x1="424.50" y1="341.45" x2="424.50" y2="345.90" stroke="#000" stroke-width="1.5" />
<text x="0" y="0" transform="translate(424.50 357.85) scale(1.0 1)" font-size="11.0" text-anchor="middle" stroke="#000" stroke-width="0.1">100</text>
<line x1="309.55" y1="341.45" x2="314.00" y2="341.45" stroke="#000" stroke-width="1.5" />
<text x="0" y="0" transform="translate(305.10 344.75) scale(1.0 1)" font-size="11.0" text-anchor="end" stroke="#000" stroke-width="0.1">0</text>
<line x1="309.55" y1="314.93" x2="314.00" y2="314.93" stroke="#000" stroke-width="1.5" />
<text x="0" y="0" transform="translate(305.10 318.23) scale(1.0 1)" font-size="11.0" text-anchor="end" stroke="#000" stroke-width="0.1">25</text>
<line x1="309.55" y1="288.40" x2="314.00" y2="288.40" stroke="#000" stroke-width="1.5" />
<text x="0" y="0" transform="translate(305.10 291.70) scale(1.0 1)" font-size="11.0" text-anchor="end" stroke="#000" stroke-width="0.1">50</text>
<line x1="309.55" y1="261.88" x2="314.00" y2="261.88" stroke="#000" stroke-width="1.5" />
<text x="0" y="0" transform="translate(305.10 265.18) scale(1.0 1)" font-size="11.0" text-anchor="end" stroke="#000" stroke-width="0.1">75</text>
<line x1="309.55" y1="235.35" x2="314.00" y2="235.35" stroke="#000" stroke-width="1.5" />
<text x="0" y="0" transform="translate(305.10 238.65) scale(1.0 1)" font-size="11.0" text-anchor="end" stroke="#000" stroke-width="0.1">100</text>
<path d="M313.80,234.25 L369.25,254.50 L424.50,245.80" fill="none" stroke="#A608E0" stroke-width="1.7" stroke-linejoin="round" />
<line x1="369.25" y1="252.00" x2="369.25" y2="256.60" stroke="#A608E0" stroke-width="1.1" />
<line x1="365.85" y1="252.00" x2="372.65" y2="252.00" stroke="#A608E0" stroke-width="1.1" />
<line x1="365.85" y1="256.60" x2="372.65" y2="256.60" stroke="#A608E0" stroke-width="1.1" />
<line x1="424.50" y1="237.80" x2="424.50" y2="254.00" stroke="#A608E0" stroke-width="1.1" />
<line x1="421.10" y1="237.80" x2="427.90" y2="237.80" stroke="#A608E0" stroke-width="1.1" />
<line x1="421.10" y1="254.00" x2="427.90" y2="254.00" stroke="#A608E0" stroke-width="1.1" />
<path d="M313.80,231.15 L317.00,236.65 L310.60,236.65 Z" fill="#A608E0"/>
<path d="M369.25,251.40 L372.45,256.90 L366.05,256.90 Z" fill="#A608E0"/>
<path d="M424.50,242.70 L427.70,248.20 L421.30,248.20 Z" fill="#A608E0"/>
<path d="M313.80,234.25 L369.25,269.50 L424.50,271.00" fill="none" stroke="#1B9E6E" stroke-width="1.7" stroke-linejoin="round" />
<line x1="369.25" y1="264.50" x2="369.25" y2="274.20" stroke="#1B9E6E" stroke-width="1.1" />
<line x1="365.85" y1="264.50" x2="372.65" y2="264.50" stroke="#1B9E6E" stroke-width="1.1" />
<line x1="365.85" y1="274.20" x2="372.65" y2="274.20" stroke="#1B9E6E" stroke-width="1.1" />
<rect x="310.90" y="231.50" width="5.8" height="5.5" fill="#1B9E6E"/>
<rect x="366.35" y="266.75" width="5.8" height="5.5" fill="#1B9E6E"/>
<rect x="421.60" y="268.25" width="5.8" height="5.5" fill="#1B9E6E"/>
<path d="M313.80,234.25 L369.25,319.30 L424.50,308.00" fill="none" stroke="#000" stroke-width="1.7" stroke-linejoin="round" />
<line x1="369.25" y1="308.00" x2="369.25" y2="330.50" stroke="#000" stroke-width="1.1" />
<line x1="365.85" y1="308.00" x2="372.65" y2="308.00" stroke="#000" stroke-width="1.1" />
<line x1="365.85" y1="330.50" x2="372.65" y2="330.50" stroke="#000" stroke-width="1.1" />
<line x1="424.50" y1="299.50" x2="424.50" y2="316.80" stroke="#000" stroke-width="1.1" />
<line x1="421.10" y1="299.50" x2="427.90" y2="299.50" stroke="#000" stroke-width="1.1" />
<line x1="421.10" y1="316.80" x2="427.90" y2="316.80" stroke="#000" stroke-width="1.1" />
<circle cx="313.80" cy="234.25" r="2.9" fill="#000"/>
<circle cx="369.25" cy="319.30" r="2.9" fill="#000"/>
<circle cx="424.50" cy="308.00" r="2.9" fill="#000"/>
<text x="0" y="0" font-size="12.3" letter-spacing="0.7" text-anchor="middle" transform="translate(278.00 281.80) rotate(-90) scale(0.6594 1)" stroke="#000" stroke-width="0.35" >Normalised peak thrombin (%)</text>
<text x="0" y="0" font-size="12.3" letter-spacing="0.7" text-anchor="middle" transform="translate(374.50 375.60) scale(0.6562 1)" stroke="#000" stroke-width="0.35" >Protein S (nM)</text>
<line x1="435.00" y1="226.20" x2="446.30" y2="226.20" stroke="#A608E0" stroke-width="1.7" />
<path d="M440.65,223.10 L443.85,228.60 L437.45,228.60 Z" fill="#A608E0"/>
<text x="450.80" y="228.90" font-size="9.9" text-anchor="start" font-weight="normal" fill="#000" stroke="#000" stroke-width="0.15" ><tspan letter-spacing="0.2">C4BP</tspan></text>
<line x1="435.00" y1="242.00" x2="446.30" y2="242.00" stroke="#1B9E6E" stroke-width="1.7" />
<rect x="437.75" y="239.25" width="5.8" height="5.5" fill="#1B9E6E"/>
<text x="450.80" y="244.70" font-size="9.9" text-anchor="start" font-weight="normal" fill="#000" stroke="#000" stroke-width="0.15" ><tspan font-family='"Liberation Serif", "DejaVu Serif", serif' font-size="10.6">β</tspan><tspan dx="-0.3" letter-spacing="-0.3">-chain</tspan></text>
<line x1="435.00" y1="257.60" x2="446.30" y2="257.60" stroke="#000" stroke-width="1.7" />
<circle cx="440.65" cy="257.60" r="2.9" fill="#000"/>
<text x="450.80" y="260.30" font-size="9.9" text-anchor="start" font-weight="normal" fill="#000" stroke="#000" stroke-width="0.15" ><tspan letter-spacing="-0.4">Free</tspan></text>
<text x="9.6" y="20.45" font-size="15.0" font-weight="bold" stroke="#000" stroke-width="0.5" stroke-linejoin="round">A</text>
<text x="267.3" y="20.5" font-size="15.5" font-weight="bold" stroke="#000" stroke-width="0.5" stroke-linejoin="round">B</text>
<text x="9.4" y="211.75" font-size="15.5" font-weight="bold" stroke="#000" stroke-width="0.5" stroke-linejoin="round">C</text>
<text x="267.3" y="211.45" font-size="15.5" font-weight="bold" stroke="#000" stroke-width="0.5" stroke-linejoin="round">D</text>
<rect x="0" y="0" width="520" height="1.5" fill="#000"/>
<rect x="0" y="0" width="1.9" height="385" fill="#000"/>
<rect x="518.55" y="0" width="1.45" height="385" fill="#000"/>
<rect x="0" y="383.35" width="520" height="1.65" fill="#000"/>
</svg>
</body>
</html>
